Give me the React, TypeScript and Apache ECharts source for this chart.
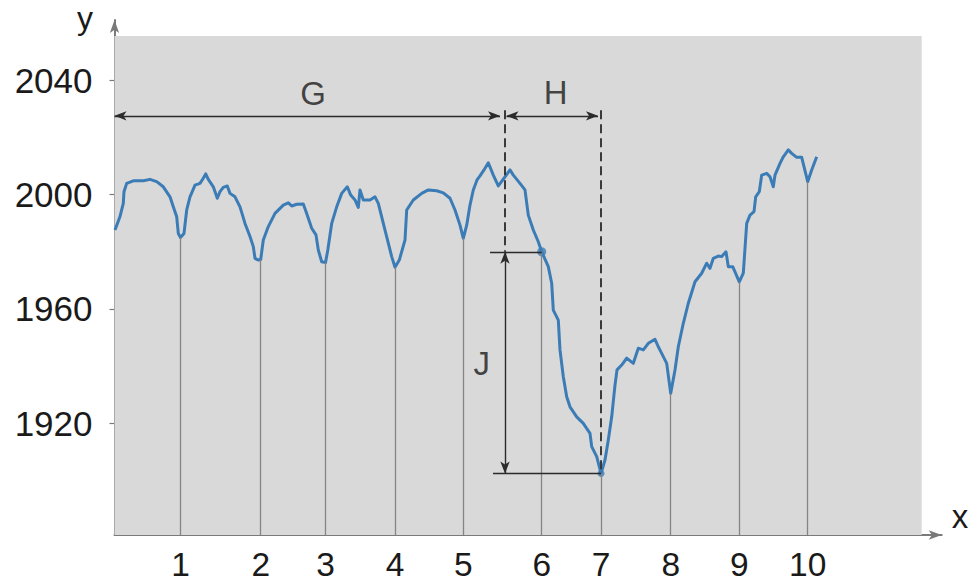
import React, { useEffect, useRef } from "react";
import * as echarts from "echarts";

// Curve (time units along x, value along y)
const curveT = [
  0.5, 5.5, 8.8, 9.5, 12.2, 18.8, 28.8, 35.5, 42.2, 48.8, 55.5, 58.8, 62.2, 63.8, 66, 69.5, 72.2, 75.5,
  80.5, 85.5, 88.8, 91.2, 93.8, 98.8, 102.8, 105.5, 108.8, 112.8, 115.5, 120.5, 125.5, 130.5, 135.5,
  138.8, 140.5, 143.8, 146.2, 148.8, 153.8, 160.5, 168.8, 173.8, 177.2, 182.2, 188.8, 192.2, 197.2,
  201.5, 203.8, 207.2, 211, 213.3, 217.2, 222.2, 227.2, 232.8, 236.2, 240.5, 243.8, 245.5, 248.8,
  255.5, 260.5, 263.8, 268.8, 273.8, 277.2, 280.5, 284.8, 290.5, 292.2, 298.8, 307.2, 313.8, 322.2,
  328.8, 335.5, 340.5, 345.5, 348.8, 352.2, 355.5, 358.8, 362.5, 365.5, 369.5, 373.8, 378.8, 383.8,
  390.5, 395.5, 398.8, 405.5, 410.5, 413.8, 418.8, 423.8, 427.2, 433.8, 437.2, 438.8, 443.8, 445.5,
  448.8, 452.2, 455.5, 462.2, 468.8, 475.5, 477.2, 482.2, 486.5, 490.5, 493.8, 497.2, 500.5, 502.5,
  507.2, 512.2, 518.8, 523.8, 528.8, 533.8, 540.5, 543.8, 547.2, 552.2, 556.2, 560.5, 563.8, 568.8,
  573.8, 580.5, 587.2, 592.2, 595.5, 598.8, 603.8, 607.2, 611.5, 613.8, 618.2, 620.5, 624.8, 628.8,
  632.2, 635.5, 639.5, 641.2, 644.8, 647.2, 652.2, 655.5, 658.8, 660.5, 665.5, 668.8, 673.8, 677.2,
  682.2, 687.2, 693.2, 697.2, 702.2,
];
const curveV = [
  1987.6, 1992.3, 1996.9, 2001.0, 2003.9, 2004.8, 2004.8, 2005.3, 2004.5, 2002.7, 1999.2, 1995.7, 1992.2,
  1986.4, 1985.0, 1986.4, 1994.6, 1999.2, 2003.3, 2003.9, 2005.7, 2007.2, 2005.3, 2002.7, 1998.7, 2001.0,
  2002.5, 2003.0, 2000.4, 1999.2, 1995.7, 1989.9, 1985.3, 1981.8, 1977.7, 1977.1, 1977.3, 1984.1, 1988.8,
  1993.4, 1996.3, 1997.1, 1996.0, 1996.6, 1996.7, 1993.4, 1988.2, 1985.9, 1980.6, 1976.5, 1976.2, 1980.6,
  1989.9, 1995.7, 2000.4, 2002.7, 1999.8, 1998.1, 1995.5, 2001.6, 1998.1, 1998.1, 1999.2, 1996.9, 1989.9,
  1983.0, 1978.3, 1974.6, 1977.1, 1984.1, 1994.6, 1998.1, 2000.4, 2001.6, 2001.3, 2000.6, 1998.7, 1994.6,
  1989.3, 1984.7, 1989.3, 1996.3, 2001.6, 2005.1, 2006.5, 2008.6, 2011.1, 2006.8, 2003.0, 2006.2, 2008.6,
  2006.8, 2003.9, 2001.6, 1992.8, 1987.6, 1983.5, 1980.0, 1974.8, 1969.0, 1959.6, 1956.1, 1945.7, 1936.3,
  1929.3, 1925.8, 1922.3, 1920.0, 1916.5, 1911.9, 1908.4, 1902.5, 1907.2, 1914.2, 1922.3, 1933.4, 1938.7,
  1940.4, 1942.8, 1941.0, 1946.3, 1945.7, 1948.0, 1949.4, 1946.8, 1944.5, 1941.0, 1930.5, 1938.7, 1946.8,
  1955.0, 1962.0, 1969.5, 1972.5, 1976.0, 1974.2, 1977.7, 1978.5, 1978.3, 1980.0, 1974.8, 1974.8, 1973.0,
  1969.5, 1972.5, 1989.9, 1992.8, 1994.0, 1999.2, 2001.0, 2006.8, 2007.4, 2006.2, 2002.7, 2006.8, 2010.9,
  2013.2, 2015.6, 2014.4, 2013.0, 2013.0, 2004.5, 2008.6, 2013.2,
];

// Numbered instants on the x axis
const tickT = [66, 146.2, 211, 280.5, 348.8, 427.2, 486.5, 556.2, 624.8, 693.2];
const tickLabels = ["1", "2", "3", "4", "5", "6", "7", "8", "9", "10"];
const yTickValues = [1920, 1960, 2000, 2040];

// Axis ranges
const xMin = 0;
const xMax = 827.2;
const yMin = 1881;
const yMax = 2061;
const plotAreaEnd = [807.2, 2055.4];

// Annotation geometry (data units)
const arrowLevel = 2027.5;
const dashTop = 2029.5;
const gSpan = [0, 385.5];
const hSpan = [392, 483.5];
const startT = 390.5; // dashed line / J arrow position
const endT = 486.5;
const highV = 1980;
const lowV = 1902.5;
const highLineFrom = 375.5;
const lowLineFrom = 378.5;
const annotationText = ["G", "H", "J"];
const annotationT = [198.5, 441.2, 367.2];
const annotationV = [2035.3, 2035.5, 1941.1];
const dotT = [427.2, 486.5];
const dotV = [1980, 1902.5];

const FONT = "'Liberation Sans', Arial, Helvetica, sans-serif";

function valueAt(t: number): number {
  const i = curveT.indexOf(t);
  return curveV[i];
}

export default function App() {
  const ref = useRef<HTMLDivElement>(null);
  useEffect(() => {
    if (!ref.current) return;
    const chart = echarts.init(ref.current, undefined, { renderer: "svg" });
    const black = "#2b2b2b";
    const arrowEnd = (coord: number[]) => ({ coord, symbol: "arrow", symbolSize: [7, 12] });
    const plainEnd = (coord: number[]) => ({ coord, symbol: "none" });
    const solid = { color: black, width: 1.4, type: "solid" as const };
    const dashed = { color: "#3a3a3a", width: 2, type: [9, 5] as any };

    const option: any = {
      animation: false,
      backgroundColor: "#ffffff",
      grid: { left: 114.5, right: 37.3, top: 20, bottom: 48, containLabel: false },
      xAxis: {
        type: "value",
        min: xMin,
        max: xMax,
        name: "x",
        nameLocation: "end",
        nameGap: 10,
        nameTextStyle: {
          fontFamily: FONT,
          fontSize: 33,
          color: "#1a1a1a",
          verticalAlign: "bottom",
          lineHeight: 33,
          padding: [0, 0, 2, 0],
        },
        axisLine: {
          show: true,
          lineStyle: { color: "#7a7a7a", width: 2 },
          symbol: ["none", "arrow"],
          symbolSize: [7, 13],
        },
        axisTick: { show: false },
        splitLine: { show: false },
        axisLabel: {
          customValues: tickT,
          margin: 12,
          fontFamily: FONT,
          fontSize: 33.5,
          color: "#1a1a1a",
          formatter: (v: number) => {
            const i = tickT.indexOf(v);
            return i >= 0 ? tickLabels[i] : "";
          },
        },
      },
      yAxis: {
        type: "value",
        min: yMin,
        max: yMax,
        name: "y",
        nameLocation: "end",
        nameGap: -11,
        nameTextStyle: {
          fontFamily: FONT,
          fontSize: 32,
          lineHeight: 26,
          color: "#1a1a1a",
          align: "center",
          padding: [0, 59, 0, 0],
        },
        axisLine: {
          show: true,
          lineStyle: { color: "#7a7a7a", width: 2 },
          symbol: ["none", "arrow"],
          symbolSize: [7, 13],
        },
        axisTick: { show: true, customValues: yTickValues, length: 5, lineStyle: { color: "#7a7a7a", width: 1.2 } },
        splitLine: { show: false },
        axisLabel: {
          customValues: yTickValues,
          margin: 22,
          fontFamily: FONT,
          fontSize: 35,
          color: "#1a1a1a",
          formatter: (v: number) => String(v),
        },
      },
      series: [
        {
          name: "background",
          type: "line",
          z: 1,
          silent: true,
          data: [[xMin, yMin]],
          symbol: "none",
          lineStyle: { opacity: 0 },
          markArea: {
            silent: true,
            itemStyle: { color: "#d9d9d9" },
            data: [[{ coord: [xMin, yMin] }, { coord: plotAreaEnd }]],
          },
          markLine: {
            silent: true,
            symbol: "none",
            label: { show: false },
            lineStyle: { color: "#858585", width: 1.3, type: "solid" },
            data: tickT.map((t) => [plainEnd([t, yMin]), plainEnd([t, valueAt(t)])]),
          },
        },
        {
          name: "curve",
          type: "line",
          z: 2,
          data: curveT.map((t, i) => [t, curveV[i]]),
          symbol: "none",
          smooth: false,
          lineStyle: { color: "#3b7cb6", width: 3, join: "round" },
        },
        {
          name: "annotations",
          type: "line",
          z: 3,
          silent: true,
          data: [[xMin, yMin]],
          symbol: "none",
          lineStyle: { opacity: 0 },
          markLine: {
            silent: true,
            symbol: "none",
            label: { show: false },
            data: [
              [{ ...arrowEnd([gSpan[0], arrowLevel]), lineStyle: solid }, arrowEnd([gSpan[1], arrowLevel])],
              [{ ...arrowEnd([hSpan[0], arrowLevel]), lineStyle: solid }, arrowEnd([hSpan[1], arrowLevel])],
              [{ ...plainEnd([startT, dashTop]), lineStyle: dashed }, plainEnd([startT, highV])],
              [{ ...plainEnd([endT, dashTop]), lineStyle: dashed }, plainEnd([endT, lowV])],
              [{ ...arrowEnd([startT, highV]), lineStyle: solid }, arrowEnd([startT, lowV])],
              [{ ...plainEnd([highLineFrom, highV]), lineStyle: solid }, plainEnd([dotT[0], highV])],
              [{ ...plainEnd([lowLineFrom, lowV]), lineStyle: solid }, plainEnd([endT, lowV])],
            ],
          },
        },
        {
          name: "points",
          type: "scatter",
          z: 4,
          silent: true,
          symbol: "circle",
          data: dotT.map((t, i) => ({ value: [t, dotV[i]], symbolSize: i === 0 ? 9 : 7 })),
          itemStyle: { color: "#3b7cb6" },
        },
        {
          name: "labels",
          type: "scatter",
          z: 5,
          silent: true,
          symbolSize: 0,
          data: annotationText.map((s, i) => ({ name: s, value: [annotationT[i], annotationV[i]] })),
          label: {
            show: true,
            position: "inside",
            formatter: (p: any) => p.name,
            fontFamily: FONT,
            fontSize: 33,
            color: "#1a1a1a",
          },
        },
      ],
    };
    chart.setOption(option);
    return () => chart.dispose();
  }, []);

  return (
    <div
      ref={ref}
      style={{ position: "fixed", left: 0, top: 0, width: 979, height: 583, background: "#fff" }}
    />
  );
}
